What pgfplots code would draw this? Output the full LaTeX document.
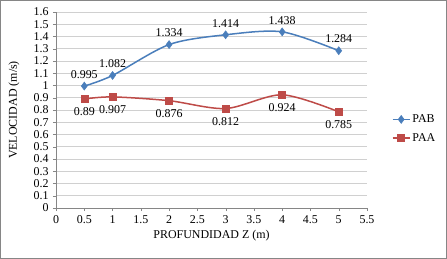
\documentclass[border=0pt]{standalone}
\usepackage{pgfplots}
\pgfplotsset{compat=1.18}
\usepackage{fontspec}
\setmainfont{Liberation Serif}
\definecolor{pab}{HTML}{4A7EBB}
\definecolor{paa}{HTML}{BE4B48}
\definecolor{gridc}{HTML}{D0D0D0}
\definecolor{axc}{HTML}{868686}
\begin{document}
\begin{tikzpicture}[font=\fontsize{12}{14}\selectfont]
\useasboundingbox (-56bp,-51bp) rectangle (391bp,208bp);
\draw[axc, line width=1bp] (-55.5bp,-50.5bp) rectangle (390.5bp,207.5bp);
\begin{axis}[
  at={(0,0)}, anchor=south west,
  scale only axis, width=311bp, height=196bp,
  xmin=0, xmax=5.5, ymin=0, ymax=1.6,
  xtick={0,0.5,...,5.5},
  ytick={0,0.1,...,1.6},
  /pgf/number format/assume math mode=true,
  axis lines=left,
  axis line style={-, axc},
  tick style={axc},
  tick align=outside,
  major tick length=3bp,
  ymajorgrids,
  grid style={gridc, line width=0.75bp},
  xticklabel style={yshift=-1bp},
  yticklabel style={xshift=-1bp},
  xlabel={PROFUNDIDAD Z (m)},
  ylabel={VELOCIDAD (m/s)},
  xlabel style={at={(0.5,0)}, anchor=center, yshift=-28bp},
  ylabel style={at={(0,0.5)}, anchor=center, yshift=42bp},
  legend style={at={(1.07,0.405)}, anchor=west, draw=none, fill=none,
    row sep=5bp, font=\fontsize{12}{14}\selectfont},
  legend cell align=left,
  nodes near coords,
  point meta=explicit symbolic,
  clip=false,
]
\addplot[color=pab, line width=1.5bp, smooth, tension=0.5,
  mark=diamond*, mark size=4bp, mark options={fill=pab, draw=pab, line width=0.5bp},
  every node near coord/.append style={anchor=south, yshift=4bp, black}]
  coordinates {
  (0.5,0.995) [0.995]
  (1,1.082) [1.082]
  (2,1.334) [1.334]
  (3,1.414) [1.414]
  (4,1.438) [1.438]
  (5,1.284) [1.284]
  };
\addlegendentry{PAB}
\addplot[color=paa, line width=1.5bp, smooth, tension=0.5,
  mark=square*, mark size=3.5bp, mark options={fill=paa, draw=paa, line width=0.5bp},
  every node near coord/.append style={anchor=north, yshift=-5bp, black}]
  coordinates {
  (0.5,0.89) [0.89]
  (1,0.907) [0.907]
  (2,0.876) [0.876]
  (3,0.812) [0.812]
  (4,0.924) [0.924]
  (5,0.785) [0.785]
  };
\addlegendentry{PAA}
\end{axis}
\end{tikzpicture}
\end{document}
